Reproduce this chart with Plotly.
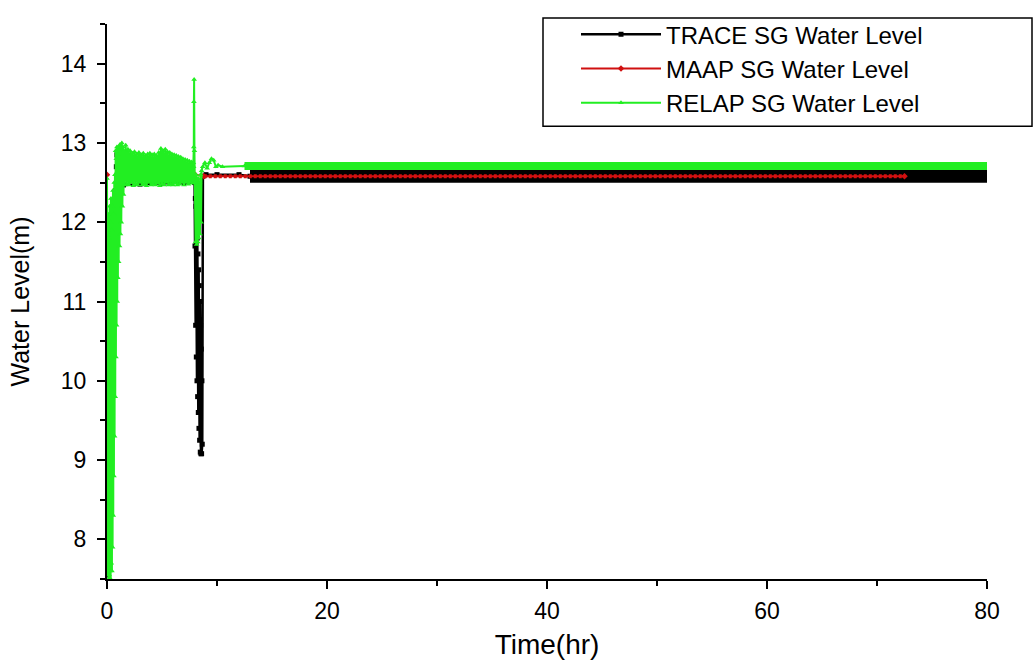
import plotly.graph_objects as go

# ---------------- data ----------------
# TRACE SG water level (hr, m)
trace_t = [0.0, 0.05, 0.1, 0.15, 0.2, 0.25, 0.3, 0.35, 0.4, 0.45, 0.5, 0.55, 0.6, 0.65,
           0.7, 0.75, 0.8, 0.85, 0.9, 0.95, 1.0, 1.5, 3.0, 5.0, 7.0, 7.96,
           8.0, 8.03, 8.06, 8.09, 8.12, 8.15, 8.18, 8.21, 8.24, 8.27, 8.3, 8.33, 8.36,
           8.39, 8.42, 8.45, 8.48, 8.51, 8.54, 8.57, 8.6, 8.63, 8.66, 8.72, 9.0, 10.0,
           12.0, 13.0]
trace_lvl = [7.55, 7.6, 7.7, 7.9, 8.1, 8.4, 8.7, 9.1, 9.5, 9.8, 10.1, 10.5, 10.9, 11.3,
             11.7, 12.1, 12.4, 12.7, 12.85, 12.6, 12.5, 12.47, 12.48, 12.49, 12.5, 12.5,
             11.7, 12.3, 10.7, 12.2, 10.3, 12.0, 10.0, 11.8, 9.8, 11.6, 9.6, 11.4, 9.4,
             11.2, 9.25, 11.0, 9.1, 10.7, 9.08, 10.4, 9.08, 10.0, 9.2, 12.58, 12.6, 12.6,
             12.6, 12.58]
trace_band_t = [13.0, 80.0]
trace_band_lvl = [12.58, 12.58]

# MAAP SG water level
maap_t = [0.0, 0.02, 0.08, 0.15, 0.25, 0.35, 0.45, 0.55, 0.65, 0.73, 0.8, 0.9, 1.0,
          8.0, 8.8, 72.5]
maap_lvl = [12.6, 9.3, 9.6, 10.3, 10.8, 11.1, 11.3, 11.6, 11.85, 12.0, 12.3, 12.6, 12.62,
            12.6, 12.58, 12.58]
maap_dot_t = [8.8, 72.5]
maap_dot_lvl = [12.58, 12.58]

# RELAP SG water level
relap_t = [0.0, 0.03, 0.06, 0.09, 0.12, 0.15, 0.18, 0.21, 0.24, 0.27, 0.3, 0.33, 0.36,
           0.39, 0.42, 0.45, 0.48, 0.51, 0.54, 0.57, 0.6, 0.63, 0.66, 0.69, 0.72, 0.75,
           0.78, 0.81, 0.84, 0.87, 0.9, 0.93, 0.96, 0.99, 1.02, 1.06, 1.1, 1.14, 1.18,
           1.22, 1.26, 1.3, 1.35, 1.4, 1.45, 1.5, 1.55, 1.6,
           1.7, 1.8, 1.9, 2.0, 2.1, 2.2, 2.3, 2.4, 2.5, 2.6, 2.7, 2.8, 2.9, 3.0, 3.1,
           3.2, 3.3, 3.4, 3.5, 3.6, 3.7, 3.8, 3.9, 4.0, 4.1, 4.2, 4.3, 4.4, 4.5, 4.6,
           4.7, 4.8, 4.9, 5.0, 5.1, 5.2, 5.3, 5.4, 5.5, 5.6, 5.7, 5.8, 5.9, 6.0, 6.1,
           6.2, 6.3, 6.4, 6.5, 6.6, 6.7, 6.8, 6.9, 7.0, 7.1, 7.2, 7.3, 7.4, 7.5, 7.6,
           7.7, 7.8, 7.85, 7.88, 7.89, 7.9, 7.92, 7.95, 8.0, 8.05, 8.1, 8.15, 8.2, 8.25,
           8.3, 8.35, 8.4, 8.45, 8.5, 8.55, 8.6, 8.7, 8.9, 9.1, 9.3, 9.5, 9.7, 9.9,
           10.1, 10.5, 12.5]
relap_lvl = [12.55, 7.6, 11.9, 7.55, 12.1, 7.5, 11.8, 7.55, 12.2, 7.6, 12.0, 7.5, 12.3,
             7.7, 11.9, 7.6, 12.2, 7.9, 12.4, 8.3, 12.1, 8.8, 12.5, 9.3, 12.6, 9.8,
             12.9, 10.3, 12.8, 10.7, 12.95, 11.0, 12.85, 11.3, 12.95, 11.5, 12.9, 11.7, 12.98,
             11.85, 12.95, 12.0, 13.0, 12.2, 12.95, 12.35, 12.9, 12.47,
             12.97, 12.48, 12.92, 12.47, 12.9, 12.5, 12.87, 12.46, 12.89, 12.48, 12.86, 12.47,
             12.88, 12.5, 12.85, 12.47, 12.87, 12.48, 12.84, 12.46, 12.86, 12.5, 12.87, 12.47,
             12.85, 12.48, 12.86, 12.47, 12.84, 12.49, 12.88, 12.46, 12.93, 12.48, 12.9, 12.47,
             12.92, 12.5, 12.89, 12.47, 12.88, 12.48, 12.86, 12.47, 12.85, 12.49, 12.84, 12.47,
             12.83, 12.48, 12.82, 12.5, 12.8, 12.47, 12.79, 12.5, 12.78, 12.48, 12.77, 12.5,
             12.76, 12.49, 12.75, 12.7, 12.95, 13.52, 13.8, 12.9, 12.5, 11.75, 12.6, 11.72,
             12.55, 11.75, 12.55, 11.8, 12.5, 11.85, 12.6, 12.0, 12.65, 12.7, 12.75, 12.68,
             12.75, 12.8, 12.78, 12.7, 12.72, 12.7, 12.71]
relap_band_t = [12.5, 80.0]
relap_band_lvl = [12.71, 12.71]

x_ticks = [0, 20, 40, 60, 80]
y_ticks = [8, 9, 10, 11, 12, 13, 14]

# ---------------- figure ----------------
BLACK = "#000000"
RED = "#d01010"
GREEN = "#22ee22"
FONT = "Arial, 'Liberation Sans', sans-serif"

ML, MT, PW, PH = 107, 14, 880, 565
W, H = 1035, 667


def px_to_paper_x(px):
    return (px - ML) / PW


def px_to_paper_y(py):
    return (MT + PH - py) / PH


fig = go.Figure()

fig.add_trace(go.Scatter(x=trace_band_t, y=trace_band_lvl, mode="lines",
                         line=dict(color=BLACK, width=13), showlegend=False,
                         hoverinfo="skip"))
fig.add_trace(go.Scatter(x=trace_t, y=trace_lvl, mode="lines+markers",
                         name="TRACE SG Water Level",
                         line=dict(color=BLACK, width=2.5),
                         marker=dict(symbol="square", size=5, color=BLACK)))

fig.add_trace(go.Scatter(x=maap_t, y=maap_lvl, mode="lines+markers",
                         name="MAAP SG Water Level",
                         line=dict(color=RED, width=2),
                         marker=dict(symbol="diamond", size=5, color=RED)))
fig.add_trace(go.Scatter(x=maap_dot_t, y=maap_dot_lvl, mode="lines",
                         line=dict(color=RED, width=4, dash="3px,2px"),
                         showlegend=False, hoverinfo="skip"))

fig.add_trace(go.Scatter(x=relap_band_t, y=relap_band_lvl, mode="lines",
                         line=dict(color=GREEN, width=8), showlegend=False,
                         hoverinfo="skip"))
fig.add_trace(go.Scatter(x=relap_t, y=relap_lvl, mode="lines+markers",
                         name="RELAP SG Water Level",
                         line=dict(color=GREEN, width=2),
                         marker=dict(symbol="triangle-up", size=5, color=GREEN)))

axis_common = dict(
    showline=True, linecolor=BLACK, linewidth=2,
    ticks="outside", ticklen=8, tickwidth=2, tickcolor=BLACK,
    showgrid=False, zeroline=False, mirror=False, automargin=False,
    tickfont=dict(family=FONT, size=23, color=BLACK),
)

fig.update_xaxes(range=[0, 80], tickvals=x_ticks, ticktext=[str(v) for v in x_ticks],
                 minor=dict(dtick=10, tick0=0, ticks="outside", ticklen=5,
                            tickwidth=2, tickcolor=BLACK),
                 ticklabelstandoff=2,
                 title=dict(text="Time(hr)", font=dict(family=FONT, size=28, color=BLACK),
                            standoff=12),
                 **axis_common)
fig.update_yaxes(range=[7.5, 14.5], tickvals=y_ticks, ticktext=[str(v) for v in y_ticks],
                 minor=dict(dtick=0.5, tick0=7.5, ticks="outside", ticklen=5,
                            tickwidth=2, tickcolor=BLACK),
                 ticklabelstandoff=6,
                 title=dict(text="Water Level(m)", font=dict(family=FONT, size=25, color=BLACK),
                            standoff=24),
                 **axis_common)

# legend frame (as in the reference, wider than the entries)
fig.add_shape(type="rect", xref="paper", yref="paper", layer="above",
              x0=px_to_paper_x(543), x1=px_to_paper_x(1032),
              y0=px_to_paper_y(118), y1=px_to_paper_y(8),
              line=dict(color=BLACK, width=1.5), fillcolor="rgba(0,0,0,0)")

fig.update_layout(
    width=W, height=H,
    margin=dict(l=ML, r=W - ML - PW, t=MT, b=H - MT - PH),
    paper_bgcolor="white", plot_bgcolor="white",
    font=dict(family=FONT, color=BLACK),
    legend=dict(x=px_to_paper_x(576), y=px_to_paper_y(2), xanchor="left", yanchor="top",
                bgcolor="rgba(0,0,0,0)", borderwidth=0,
                font=dict(family=FONT, size=24, color=BLACK),
                itemwidth=80, tracegroupgap=0),
    showlegend=True,
)

fig.write_html("out.html", config={"displayModeBar": False},
               post_script="document.body.style.margin='0';document.body.style.padding='0';")
